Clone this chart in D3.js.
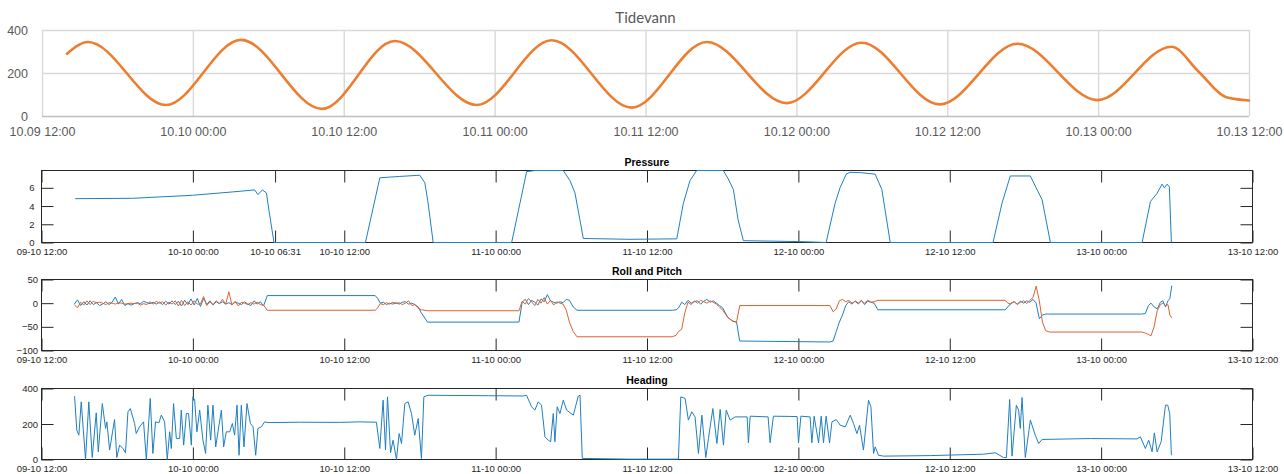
<!DOCTYPE html>
<html><head><meta charset="utf-8">
<script src="https://cdn.jsdelivr.net/npm/d3@7"></script>
<style>
html,body{margin:0;padding:0;background:#fff;}
svg{display:block;}
</style></head>
<body><svg id="c" width="1284" height="474"></svg>
<script>
// ================= DATA =================
// hours since 2017-10-09 12:00
const tideHours = [1.99, 3.66, 9.86, 15.82, 22.26, 28.06, 34.58, 40.54, 46.9, 52.87, 59.23, 65.19, 71.39, 77.59, 83.95, 89.83, 92.0, 94.2, 96];
const tideLevel = [290, 344, 51, 354, 33, 349, 51, 352, 39, 344, 60, 341, 54, 336, 74, 322, 206, 87, 72];
const tideTickHours = [0, 12, 24, 36, 48, 60, 72, 84, 96];
const tideTickLabels = ["10.09 12:00","10.10 00:00","10.10 12:00","10.11 00:00","10.11 12:00","10.12 00:00","10.12 12:00","10.13 00:00","10.13 12:00"];
const tideYTicks = [0, 200, 400];

const matTickHours = [0, 12, 24, 36, 48, 60, 72, 84, 96];
const matTickLabels = ["09-10 12:00","10-10 00:00","10-10 12:00","11-10 00:00","11-10 12:00","12-10 00:00","12-10 12:00","13-10 00:00","13-10 12:00"];
const pressureTickHours = [0, 12, 18.5167, 24, 36, 48, 60, 72, 84, 96];
const pressureTickLabels = ["09-10 12:00","10-10 00:00","10-10 06:31","10-10 12:00","11-10 00:00","11-10 12:00","12-10 00:00","12-10 12:00","13-10 00:00","13-10 12:00"];

const pressureHours = [2.67, 7.22, 11.97, 15.15, 16.9, 17.16, 17.51, 17.83, 18.09, 18.43, 25.68, 26.82, 28.4, 29.99, 30.39, 30.63, 31.05, 37.27, 38.46, 39.12, 41.36, 41.89, 42.29, 42.68, 42.95, 46.65, 50.36, 50.88, 51.41, 51.94, 54.05, 54.43, 54.85, 55.22, 55.64, 60.14, 62.2, 62.91, 63.3, 63.8, 64.1, 64.9, 66.09, 66.62, 67.28, 75.43, 76.14, 76.8, 78.39, 78.92, 79.32, 79.98, 87.25, 87.91, 88.44, 88.83, 89.02, 89.23, 89.41, 89.57];
const pressureValues = [4.81, 4.85, 5.18, 5.55, 5.77, 5.25, 5.77, 5.44, 3.0, 0, 0, 7.1, 7.25, 7.38, 6.55, 4.5, 0, 0, 7.78, 7.9, 7.9, 6.8, 5.44, 2.5, 0.44, 0.35, 0.4, 4.3, 6.8, 7.9, 7.9, 7.0, 5.8, 2.5, 0.2, 0.1, 0, 4.3, 6.0, 7.5, 7.7, 7.67, 7.5, 5.8, 0, 0, 4.3, 7.3, 7.3, 5.8, 4.7, 0, 0, 4.5, 5.4, 6.4, 6.0, 6.4, 6.1, 0];
const pressureYTicks = [0, 2, 4, 6];

const rpHours = [
  2.6, 2.85, 3.1, 3.35, 3.6, 3.85, 4.1, 4.35, 4.6, 4.85,
  5.1, 5.35, 5.6, 5.85, 6.1, 6.35, 6.6, 6.85, 7.1, 7.35,
  7.6, 7.85, 8.1, 8.35, 8.6, 8.85, 9.1, 9.35, 9.6, 9.85,
  10.1, 10.35, 10.6, 10.85, 11.1, 11.35, 11.6, 11.85, 12.1, 12.35,
  12.6, 12.85, 13.1, 13.35, 13.6, 13.85, 14.1, 14.35, 14.6, 14.85,
  15.1, 15.35, 15.6, 15.85, 16.1, 16.35, 16.6, 16.85, 17.1, 17.35,
  17.6,
  17.9, 26.45, 26.65,
  26.85, 27.1, 27.35, 27.6, 27.85, 28.1, 28.35, 28.6, 28.85, 29.1, 29.35, 29.6, 29.85, 30.1,
  30.6, 37.85,
  38.1, 38.35, 38.6, 38.85, 39.1, 39.35, 39.6, 39.85, 40.1, 40.35, 40.6, 40.85, 41.1, 41.35, 41.6, 41.85,
  42.15, 42.45, 50.0, 50.3,
  50.5, 50.75, 51.0, 51.25, 51.5, 51.75, 52.0, 52.25, 52.5, 52.75, 53.0, 53.25, 53.5, 53.75, 54.0,
  54.4, 54.8, 55.1, 55.35, 62.5, 62.75, 63.0, 63.25,
  63.5, 63.75, 64.0, 64.25, 64.5, 64.75, 65.0, 65.25, 65.5, 65.75, 66.0,
  66.3, 76.4,
  76.6, 76.85, 77.1, 77.35, 77.6, 77.85, 78.1, 78.35, 78.6,
  78.85, 79.1, 79.35, 79.6, 79.9, 87.2, 87.5, 87.75, 87.95, 88.2, 88.45, 88.7, 88.9, 89.1, 89.3, 89.45, 89.6
];
const rollValues = [
  -2, 7, -5, 3, -4, 5, -3, 1, -5, -2,
  3, -3, 2, 13, -2, 8, -5, -1, -4, -1,
  1, -1, 4, 1, -1, 2, -2, 2, -3, 4,
  -2, 5, -3, 4, -6, 6, -3, 9, -4, 10,
  -7, 10, -3, 5, -4, 3, -1, 3, -2, 1,
  -3, 2, 0, -3, 3, -2, -5, 5, -2, 3,
  -6,
  16, 16, 10,
  0, 2, -3, 0, -2, 1, -2, 2, 3, -2, 0, -3, -8, -20,
  -40, -40,
  2, 8, -3, 6, 2, -4, 9, 3, 18, 5, 2, 0, 3, 1, 8, 6,
  -8, -15, -15, -14,
  -10, 2, -3, 6, 0, 3, 5, -2, 4, 8, 2, 5, 0, -5, -10,
  -30, -38, -40, -80, -82, -80, -60, -40,
  -25, -5, 3, -2, 5, 0, 6, -3, 4, 2, 0,
  -14, -14,
  -8, 0, 3, -2, 4, 0, 5, 2, 8,
  0, -33, -25, -23, -23, -23, -22, -5, 0, -8, -12, 2, 5, -8, 5, 10, 37
];
const pitchValues = [
  -3, -10, 2, -4, 5, -3, 4, 1, 2, 0,
  -3, 1, 0, -2, 1, 0, -2, -1, 0, -1,
  0, -4, -1, -3, 3, -2, 4, 0, 3, -4,
  2, -2, 5, -6, 6, -5, 3, -4, 5, -2,
  -2, 14, -5, 3, -3, 5, -1, 8, -2, 24,
  -4, 4, -6, 2, 0, -3, 1, -2, 2, -3,
  -4,
  -15, -15, -10,
  -1, -3, 1, -2, 2, -1, 1, -3, 0, 5, -5, -3, -10, -14,
  -16, -16,
  4, -2, 10, 3, -5, 8, 0, 12, -2, 6, -4, 3, 0, -2, -15, -40,
  -60, -71, -71, -68,
  -60, -55, -20, 2, -3, 5, 0, 6, 3, 0, 5, 2, -2, -8, -15,
  -30, -38, -40, -5, -5, -18, -12, 5,
  8, 3, 6, 0, 4, -2, 5, 0, 6, 2, 3,
  6, 6,
  0, -2, 4, -3, 2, 5, -1, 6, 12,
  36, 5, -40, -58, -61, -61, -63, -66, -69, -50, -15, -3, 0, -5, -3, -25, -31
];
const rpYTicks = [-100, -50, 0, 50];

const headingHours = [2.62, 2.80, 2.96, 3.15, 3.49, 3.75, 4.02, 4.34, 4.50, 4.82, 5.08, 5.18, 5.40, 5.79, 5.97, 6.19, 6.45, 6.66, 6.85, 7.04, 7.38, 7.51, 7.77, 8.09, 8.31, 8.62, 8.83, 9.04, 9.31, 9.50, 9.76, 9.97, 10.16, 10.29, 10.47, 10.69, 10.95, 11.08, 11.27, 11.48, 11.66, 11.88, 12.00, 12.14, 12.32, 12.54, 12.80, 13.01, 13.19, 13.41, 13.59, 13.81, 13.99, 14.26, 14.44, 14.65, 14.92, 15.13, 15.31, 15.50, 15.66, 15.84, 16.05, 16.29, 16.56, 16.77, 16.98, 17.16, 17.43, 17.69, 17.95, 20.47, 23.64, 25.2, 26.55,
  26.82, 27.08, 27.27, 27.43, 27.67, 27.87, 28.14, 28.35, 28.54, 28.80, 29.06, 29.33, 29.59, 29.86, 30.12, 30.31, 30.65, 34.36, 38.19,
  38.45, 38.85, 39.11, 39.38, 39.64, 39.91, 40.17, 40.36, 40.57, 40.70, 40.88, 41.10, 41.36, 41.63, 42.16, 42.55, 42.69, 42.87, 46.65, 50.49,
  50.68, 51.02, 51.28, 51.55, 51.81, 52.08, 52.35, 52.66, 52.87, 53.22, 53.54, 53.80, 54.06, 54.28, 54.59, 54.99, 55.94, 56.04, 56.18, 57.6, 57.76, 58.02, 59.9, 60.01, 60.2, 60.93, 61.07, 61.25, 61.6, 61.81, 61.99, 62.2, 62.47, 62.66,
  63.0, 63.32, 63.72, 64.11, 64.37, 64.64, 64.85, 65.16, 65.56, 65.75, 65.96, 66.09, 66.35, 66.75, 70.46, 74.69, 75.61,
  76.27, 76.49, 76.75, 76.94, 77.28, 77.46, 77.59, 77.73, 77.99, 78.39, 78.78, 79.05, 79.32, 83.15, 86.85,
  87.11, 87.51, 87.77, 88.04, 88.22, 88.44, 88.76, 89.1, 89.28, 89.44, 89.57];
const headingValues = [357, 165, 137, 325, 0, 325, 11, 263, 43, 315, 175, 212, 53, 225, 11, 81, 62, 38, 268, 287, 203, 146, 184, 212, 0, 344, 34, 212, 207, 250, 212, 0, 156, 62, 315, 118, 118, 278, 81, 259, 259, 81, 353, 334, 156, 278, 109, 34, 306, 109, 306, 71, 156, 278, 71, 156, 156, 203, 137, 306, 24, 306, 71, 315, 203, 184, 24, 175, 184, 212, 208, 210, 209, 212, 210,
  62, 334, 53, 353, 38, 109, 0, 146, 90, 315, 325, 259, 137, 231, 6, 353, 362, 360, 358,
  362, 297, 278, 325, 306, 128, 109, 100, 259, 100, 297, 259, 334, 278, 250, 357, 362, 6, 2, 2,
  353, 344, 222, 269, 240, 34, 250, 11, 118, 287, 90, 282, 81, 278, 222, 240, 240, 94, 244, 240, 94, 244, 242, 94, 244, 240, 94, 244, 94, 244, 94, 244, 94, 212,
  225, 193, 184, 250, 203, 146, 193, 53, 334, 297, 34, 71, 24, 19, 22, 30, 38,
  11, 11, 338, 19, 306, 278, 175, 349, 11, 222, 137, 90, 113, 118, 116,
  128, 62, 109, 43, 150, 43, 100, 306, 306, 259, 24];
const headingYTicks = [0, 200, 400];

// ================= DRAWING =================
const svg = d3.select("#c");
const base = Date.UTC(2017, 9, 9, 12);
const toDate = h => new Date(base + h * 3600e3);
const zip = (hs, vs) => d3.range(Math.min(hs.length, vs.length)).map(i => ({t: toDate(hs[i]), v: vs[i]}));

// ---------- Tidevann (Excel style) ----------
(function () {
  const L = 42, R = 1249, T = 30, B = 116;
  const x = d3.scaleUtc().domain([toDate(0), toDate(96)]).range([L, R]);
  const y = d3.scaleLinear().domain([0, 400]).range([B, T]);
  const g = svg.append("g").attr("font-family", "Lato, 'Open Sans', sans-serif");

  const xa = g.append("g").attr("transform", `translate(0,${B})`)
    .call(d3.axisBottom(x).tickValues(tideTickHours.map(toDate))
      .tickFormat((d, i) => tideTickLabels[i]).tickSizeInner(-(B - T)).tickSizeOuter(0).tickPadding(11));
  xa.select(".domain").remove();
  xa.selectAll(".tick line").attr("stroke", "#d9d9d9").attr("stroke-width", 1.4);
  xa.selectAll(".tick text").attr("fill", "#595959").attr("font-size", 12.5);

  const ya = g.append("g").attr("transform", `translate(${L},0)`)
    .call(d3.axisLeft(y).tickValues(tideYTicks).tickSizeInner(-(R - L)).tickSizeOuter(0).tickPadding(14));
  ya.select(".domain").remove();
  ya.selectAll(".tick line").attr("stroke", d => d === 0 ? "#bfbfbf" : "#d9d9d9").attr("stroke-width", 1.4);
  ya.selectAll(".tick text").attr("fill", "#595959").attr("font-size", 12.5);

  g.append("path").datum(zip(tideHours, tideLevel))
    .attr("fill", "none").attr("stroke", "#ED7D31").attr("stroke-width", 2.6)
    .attr("stroke-linejoin", "round").attr("stroke-linecap", "round")
    .attr("d", d3.line().x(d => x(d.t)).y(d => y(d.v)).curve(d3.curveMonotoneX));

  g.append("text").attr("x", (L + R) / 2).attr("y", 22.5).attr("text-anchor", "middle")
    .attr("font-size", 15).attr("fill", "#595959").text("Tidevann");
})();

// ---------- MATLAB style subplots ----------
function matPanel(opt) {
  const L = 41.5, R = 1252.5, T = opt.top, B = opt.bottom;
  const x = d3.scaleUtc().domain([toDate(0), toDate(96)]).range([L, R]);
  const y = d3.scaleLinear().domain(opt.yDomain).range([B, T]);
  const g = svg.append("g").attr("font-family", "'Liberation Sans', Arial, Helvetica, sans-serif");
  const axisCol = "#262626";
  const tl = 12;

  const xb = g.append("g").attr("transform", `translate(0,${B})`)
    .call(d3.axisBottom(x).tickValues(opt.tickHours.map(toDate))
      .tickFormat((d, i) => opt.tickLabels[i]).tickSizeInner(-tl).tickSizeOuter(0).tickPadding(5.8));
  const xt = g.append("g").attr("transform", `translate(0,${T})`)
    .call(d3.axisTop(x).tickValues(opt.tickHours.map(toDate)).tickFormat("").tickSizeInner(-tl).tickSizeOuter(0));
  const yl = g.append("g").attr("transform", `translate(${L},0)`)
    .call(d3.axisLeft(y).tickValues(opt.yTicks).tickSizeInner(-tl).tickSizeOuter(0).tickPadding(opt.yPad));
  const yr = g.append("g").attr("transform", `translate(${R},0)`)
    .call(d3.axisRight(y).tickValues(opt.yTicks).tickFormat("").tickSizeInner(-tl).tickSizeOuter(0));
  [xb, xt, yl, yr].forEach(a => {
    a.select(".domain").remove();
    a.selectAll(".tick line").attr("stroke", axisCol).attr("stroke-width", 1);
    a.selectAll(".tick text").attr("fill", axisCol).attr("font-size", 9.5);
  });

  g.append("rect").attr("x", L).attr("y", T).attr("width", R - L).attr("height", B - T)
    .attr("fill", "none").attr("stroke", axisCol).attr("stroke-width", 1);

  const line = d3.line().x(d => x(d.t)).y(d => y(d.v));
  opt.series.forEach(s => {
    g.append("path").datum(s.data).attr("fill", "none").attr("stroke", s.color)
      .attr("stroke-width", 1).attr("stroke-linejoin", "round").attr("d", line);
  });

  g.append("text").attr("x", (L + R) / 2).attr("y", T - 4.5).attr("text-anchor", "middle")
    .attr("font-size", 10.5).attr("font-weight", "bold").attr("fill", "#000").text(opt.title);
}

matPanel({
  top: 170.5, bottom: 242.5, yDomain: [0, 7.9], yTicks: pressureYTicks, yPad: 7,
  tickHours: pressureTickHours, tickLabels: pressureTickLabels, title: "Pressure",
  series: [{data: zip(pressureHours, pressureValues), color: "#1f7fc0"}]
});
matPanel({
  top: 279.5, bottom: 350.5, yDomain: [-100, 50], yTicks: rpYTicks, yPad: 3.5,
  tickHours: matTickHours, tickLabels: matTickLabels, title: "Roll and Pitch",
  series: [{data: zip(rpHours, rollValues), color: "#1f7fc0"},
           {data: zip(rpHours, pitchValues), color: "#dc6330"}]
});
matPanel({
  top: 388.5, bottom: 459.5, yDomain: [0, 400], yTicks: headingYTicks, yPad: 3.5,
  tickHours: matTickHours, tickLabels: matTickLabels, title: "Heading",
  series: [{data: zip(headingHours, headingValues), color: "#1f7fc0"}]
});
</script>
</body></html>
